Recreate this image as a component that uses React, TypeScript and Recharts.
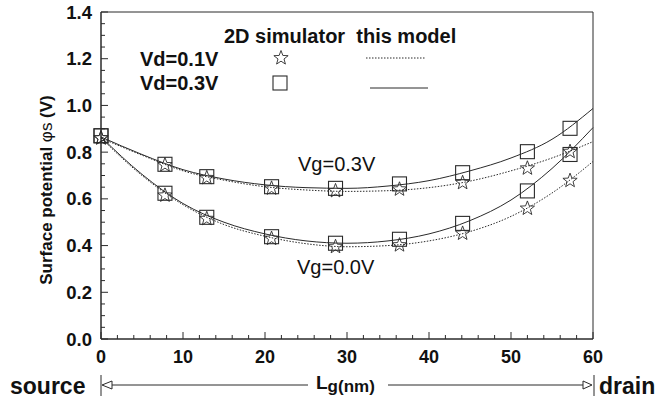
import { ComposedChart, Line, Scatter, XAxis, YAxis, ReferenceArea } from 'recharts'

// simulator sample positions along the channel (nm)
const simX = [0, 7.8, 12.9, 20.8, 28.6, 36.4, 44.1, 52.0, 57.2]
const simVg03Vd01 = [0.86, 0.745, 0.69, 0.645, 0.634, 0.641, 0.669, 0.731, 0.802]
const simVg03Vd03 = [0.87, 0.748, 0.695, 0.652, 0.645, 0.664, 0.712, 0.802, 0.902]
const simVg00Vd01 = [0.86, 0.615, 0.515, 0.43, 0.395, 0.402, 0.452, 0.559, 0.678]
const simVg00Vd03 = [0.87, 0.624, 0.521, 0.438, 0.41, 0.427, 0.495, 0.634, 0.79]

// model curves
const modelX = [0, 5, 10, 15, 20, 25, 30, 35, 40, 45, 50, 55, 60]
const modelVg03Vd01 = [0.86, 0.787, 0.72, 0.68, 0.652, 0.638, 0.632, 0.635, 0.648, 0.676, 0.72, 0.775, 0.845]
const modelVg03Vd03 = [0.865, 0.79, 0.725, 0.685, 0.66, 0.648, 0.645, 0.655, 0.678, 0.72, 0.775, 0.855, 0.987]
const modelVg00Vd01 = [0.86, 0.7, 0.575, 0.49, 0.44, 0.408, 0.395, 0.4, 0.42, 0.46, 0.525, 0.625, 0.76]
const modelVg00Vd03 = [0.865, 0.705, 0.58, 0.5, 0.45, 0.42, 0.41, 0.42, 0.45, 0.507, 0.595, 0.73, 0.905]

const xTicks = [0, 2, 4, 6, 8, 10, 12, 14, 16, 18, 20, 22, 24, 26, 28, 30, 32, 34, 36, 38, 40, 42, 44, 46, 48, 50, 52, 54, 56, 58, 60]
const yTicks = [0, 0.05, 0.1, 0.15, 0.2, 0.25, 0.3, 0.35, 0.4, 0.45, 0.5, 0.55, 0.6, 0.65, 0.7, 0.75, 0.8, 0.85, 0.9, 0.95, 1.0, 1.05, 1.1, 1.15, 1.2, 1.25, 1.3, 1.35, 1.4]

const toPoints = (xs: number[], ys: number[]) => xs.map((x, i) => ({ x, y: ys[i] }))

const INK = '#2a2a2a'
const FONT = 'Arial, "Liberation Sans", Helvetica, sans-serif'

function starPath(cx: number, cy: number, r: number) {
  const pts: string[] = []
  for (let i = 0; i < 10; i++) {
    const rad = i % 2 === 0 ? r : r * 0.42
    const a = -Math.PI / 2 + (i * Math.PI) / 5
    pts.push(`${(cx + rad * Math.cos(a)).toFixed(2)},${(cy + rad * Math.sin(a)).toFixed(2)}`)
  }
  return `M${pts.join('L')}Z`
}

const StarShape = (props: any) => (
  <path d={starPath(props.cx, props.cy, 7.5)} fill="none" stroke={INK} strokeWidth={0.9} />
)

const SquareShape = (props: any) => (
  <rect x={props.cx - 7} y={props.cy - 7} width={14} height={14} fill="none" stroke={INK} strokeWidth={1.1} />
)

const XTick = (props: any) => {
  const { x, y, payload } = props
  const major = payload.value % 10 === 0
  return (
    <g>
      <line x1={x} x2={x} y1={y} y2={y - (major ? 7 : 4)} stroke={INK} />
      {major && (
        <text x={x} y={y + 24} textAnchor="middle" fontFamily={FONT} fontWeight="bold" fontSize={18} fill="#111">
          {payload.value}
        </text>
      )}
    </g>
  )
}

const YTick = (props: any) => {
  const { x, y, payload } = props
  const major = Math.round(payload.value * 100) % 20 === 0
  return (
    <g>
      <line x1={x} x2={x + (major ? 7 : 4)} y1={y} y2={y} stroke={INK} />
      {major && (
        <text x={x - 9} y={y + 6.5} textAnchor="end" fontFamily={FONT} fontWeight="bold" fontSize={18.5} fill="#111">
          {payload.value.toFixed(1)}
        </text>
      )}
    </g>
  )
}

export default function App() {
  return (
    <div style={{ position: 'absolute', left: 0, top: 0, width: 656, height: 403, background: '#fff' }}>
      <ComposedChart width={656} height={403} margin={{ top: 12, right: 63, left: 0, bottom: 44 }}>
        <XAxis
          type="number"
          dataKey="x"
          domain={[0, 60]}
          ticks={xTicks}
          interval={0}
          tickSize={0}
          tickMargin={0}
          height={20}
          axisLine={{ stroke: INK }}
          tickLine={false}
          tick={<XTick />}
        />
        <YAxis
          type="number"
          dataKey="y"
          domain={[0, 1.4]}
          ticks={yTicks}
          interval={0}
          tickSize={0}
          tickMargin={0}
          width={101}
          axisLine={{ stroke: INK }}
          tickLine={false}
          tick={<YTick />}
        />
        <ReferenceArea x1={0} x2={60} y1={0} y2={1.4} fill="none" stroke={INK} strokeWidth={1} />

        <Line data={toPoints(modelX, modelVg03Vd01)} dataKey="y" type="monotone" stroke={INK} strokeWidth={1} strokeDasharray="1.5 1.5" dot={false} activeDot={false} isAnimationActive={false} />
        <Line data={toPoints(modelX, modelVg03Vd03)} dataKey="y" type="monotone" stroke={INK} strokeWidth={1} dot={false} activeDot={false} isAnimationActive={false} />
        <Line data={toPoints(modelX, modelVg00Vd01)} dataKey="y" type="monotone" stroke={INK} strokeWidth={1} strokeDasharray="1.5 1.5" dot={false} activeDot={false} isAnimationActive={false} />
        <Line data={toPoints(modelX, modelVg00Vd03)} dataKey="y" type="monotone" stroke={INK} strokeWidth={1} dot={false} activeDot={false} isAnimationActive={false} />

        <Scatter data={toPoints(simX, simVg03Vd03)} shape={<SquareShape />} isAnimationActive={false} />
        <Scatter data={toPoints(simX, simVg00Vd03)} shape={<SquareShape />} isAnimationActive={false} />
        <Scatter data={toPoints(simX, simVg03Vd01)} shape={<StarShape />} isAnimationActive={false} />
        <Scatter data={toPoints(simX, simVg00Vd01)} shape={<StarShape />} isAnimationActive={false} />
      </ComposedChart>

      {/* legend, annotations, axis titles */}
      <svg width={656} height={403} style={{ position: 'absolute', left: 0, top: 0, pointerEvents: 'none' }} fontFamily={FONT}>
        <text x={224} y={43} fontWeight="bold" fontSize={20} fill="#111">{'2D simulator\u00A0 this model'}</text>
        <text x={140} y={66} fontWeight="bold" fontSize={20} fill="#111">Vd=0.1V</text>
        <text x={140} y={90} fontWeight="bold" fontSize={20} fill="#111">Vd=0.3V</text>
        <StarShape cx={281} cy={58} />
        <SquareShape cx={280} cy={83} />
        <line x1={366} x2={425} y1={58} y2={58} stroke={INK} strokeDasharray="1.5 1.5" />
        <line x1={370} x2={428} y1={88} y2={88} stroke={INK} />

        <text x={298} y={171} fontSize={20} fill="#111">Vg=0.3V</text>
        <text x={297} y={274} fontSize={20} fill="#111">Vg=0.0V</text>

        <text transform="translate(52,190) rotate(-90)" textAnchor="middle" fontWeight="bold" fontSize={17} fill="#111">
          Surface potential <tspan fontWeight="normal">φs</tspan> (V)
        </text>

        <text x={10} y={394} fontWeight="bold" fontSize={23} fill="#111">source</text>
        <text x={599} y={394} fontWeight="bold" fontSize={23} fill="#111">drain</text>
        <line x1={101} x2={101} y1={375} y2={396} stroke={INK} />
        <path d="M102,385 L112,381 L112,389 Z" fill="none" stroke={INK} />
        <line x1={112} x2={308} y1={385} y2={385} stroke={INK} />
        <line x1={388} x2={583} y1={385} y2={385} stroke={INK} />
        <path d="M592,385 L583,381 L583,389 Z" fill="none" stroke={INK} />
        <line x1={594} x2={594} y1={375} y2={396} stroke={INK} />
        <text x={316} y={389} fontWeight="bold" fontSize={19} fill="#111">
          L<tspan fontSize={17} dy={3}>g(nm)</tspan>
        </text>
      </svg>
    </div>
  )
}
